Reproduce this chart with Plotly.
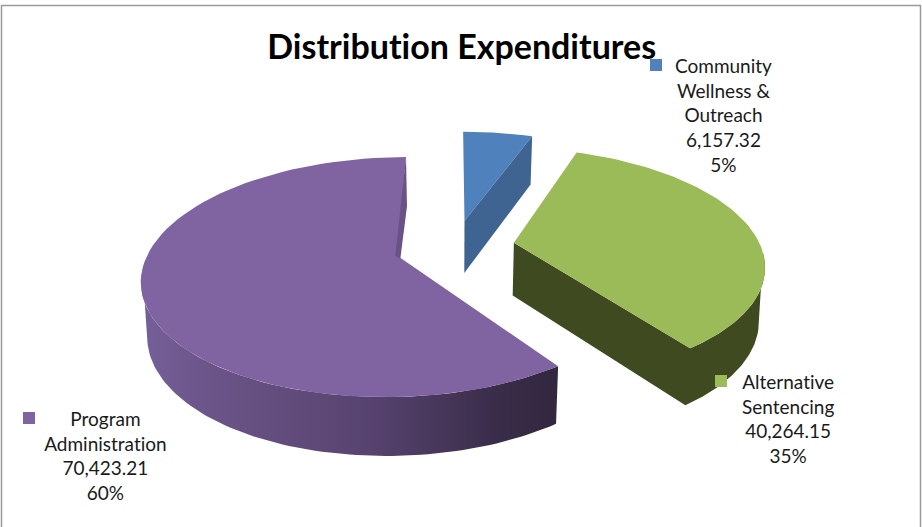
import numpy as np
import plotly.graph_objects as go

categories = ["Community<br>Wellness &<br>Outreach", "Alternative<br>Sentencing", "Program<br>Administration"]
values = [6157.32, 40264.15, 70423.21]
percent_labels = ["5%", "35%", "60%"]
title_text = "Distribution Expenditures"

top_colors = ["#4f81bd", "#9bbb59", "#8064a2"]
wall_colors = ["#3f6491", "#3f4a21", "#32273f"]

# Projection of the exploded pie (3-D view of a disc) onto the plot plane
CX, CY, R, EXPLODE, SQUASH, PERSP, DEPTH, FLOOR_SCALE, WARP = 455, 247, 247, 60, 0.458, 0.175, 53, 0.98, 2.2
N = 80


def project(U, V, drop=False):
    s = 1 / (1 - PERSP * V / R)
    x = CX + U * s
    y = CY + SQUASH * V * s
    if drop:
        x = CX + U * s * FLOOR_SCALE
        y = y + DEPTH * np.sqrt(s)
    return x, y


def disc(angle):
    a = np.radians(angle)
    return np.sin(a), -np.cos(a)


total = sum(values)
edges = np.concatenate([[0], np.cumsum(values) / total * 360])
fig = go.Figure()


def poly(xs, ys, color=None, gradient=None):
    kw = dict(fillgradient=gradient) if gradient else dict(fillcolor=color)
    fig.add_trace(go.Scatter(x=list(xs), y=list(ys), mode="lines", fill="toself",
                             line=dict(width=0), hoverinfo="skip", showlegend=False, **kw))


def slice_geom(i):
    a0, a1 = edges[i], edges[i + 1]
    du, dv = disc((a0 + a1) / 2)
    apex = (EXPLODE * du, EXPLODE * dv)
    return a0, a1, apex


def rim(apex, a0, a1, drop=False):
    ang = np.linspace(a0, a1, N)
    ang = ang + WARP * np.sin(np.radians(ang))
    u, v = disc(ang)
    return project(apex[0] + R * u, apex[1] + R * v, drop)


# Community Wellness & Outreach
a0, a1, apex = slice_geom(0)
ax, ay = project(*apex)
bx, by = project(*apex, True)
rx1, ry1 = rim(apex, a1, a1)
rx2, ry2 = rim(apex, a1, a1, True)
tx, ty = rim(apex, a0, a1)
poly([ax, *tx, ax], [ay, *ty, ay], top_colors[0])
poly([ax, rx1[0], rx2[0], bx, ax], [ay, ry1[0], ry2[0], by, ay], wall_colors[0])

# Alternative Sentencing
a0, a1, apex = slice_geom(1)
ax, ay = project(*apex)
bx, by = project(*apex, True)
tx, ty = rim(apex, 93, a1)
dx, dy = rim(apex, 104, a1, True)
poly([ax, bx, *dx[::-1], *tx, ax], [ay, by, *dy[::-1], *ty, ay], wall_colors[1])
tx, ty = rim(apex, a0, a1)
poly([ax, *tx, ax], [ay, *ty, ay], top_colors[1])

# Program Administration
a0, a1, apex = slice_geom(2)
ax, ay = project(*apex)
tx, ty = rim(apex, 266, a0)
dx, dy = rim(apex, a0, 256, True)
poly([*tx, *dx, tx[0]], [*ty, *dy, ty[0]], gradient=dict(
    type="horizontal",
    colorscale=[[0, "#75609a"], [0.15, "#6c5589"], [0.55, "#57436f"], [0.85, "#3a2d4a"], [1, "#32273f"]]))
tx, ty = rim(apex, a0, a1)
poly([ax, *tx, ax], [ay, *ty, ay], top_colors[2])
ex, ey = rim(apex, a1, a1)
ex2, ey2 = rim(apex, a1, a1, True)
poly([ex[0], ex2[0], ax + 3, ax - 2, ex[0]], [ey[0], ey2[0], ay + 3, ay, ey[0]], "#6a5286")

# Data labels with their legend keys
key_x = [656, 721, 29]
key_y = [65, 381, 418]
label_x = [723, 788, 105]
label_y = [115, 418, 455]
fig.add_trace(go.Scatter(x=key_x, y=key_y, mode="markers", hoverinfo="skip", showlegend=False,
                         marker=dict(symbol="square", size=12, color=top_colors, line=dict(width=0))))
for c, v, p, x, y in zip(categories, values, percent_labels, label_x, label_y):
    fig.add_annotation(x=x, y=y, text=f"{c}<br>{v:,.2f}<br>{p}", showarrow=False, align="center",
                       font=dict(family="Lato", size=19, color="#1a1a1a"))
fig.add_annotation(x=461, y=45, text=f"<b>{title_text}</b>", showarrow=False,
                   font=dict(family="Lato", size=34, color="#000000"))

frame = dict(type="path", path="M 1.5,527 L 1.5,5.5 L 920.5,5.5 L 920.5,527", xref="x", yref="y",
             line=dict(color="#9a9a9a", width=1.5))
fig.update_layout(width=922, height=527, margin=dict(l=0, r=0, t=0, b=0),
                  paper_bgcolor="white", plot_bgcolor="white",
                  xaxis=dict(range=[0, 922], visible=False, fixedrange=True),
                  yaxis=dict(range=[527, 0], visible=False, fixedrange=True),
                  shapes=[frame])
post = ("document.body.style.margin='0';document.body.style.overflow='hidden';"
        "var st=document.createElement('style');"
        "st.textContent='svg text{font-variant-ligatures:none!important;"
        "font-feature-settings:\"liga\" 0,\"clig\" 0!important}';document.head.appendChild(st);")
fig.write_html("out.html", post_script=post, config={"displayModeBar": False})
